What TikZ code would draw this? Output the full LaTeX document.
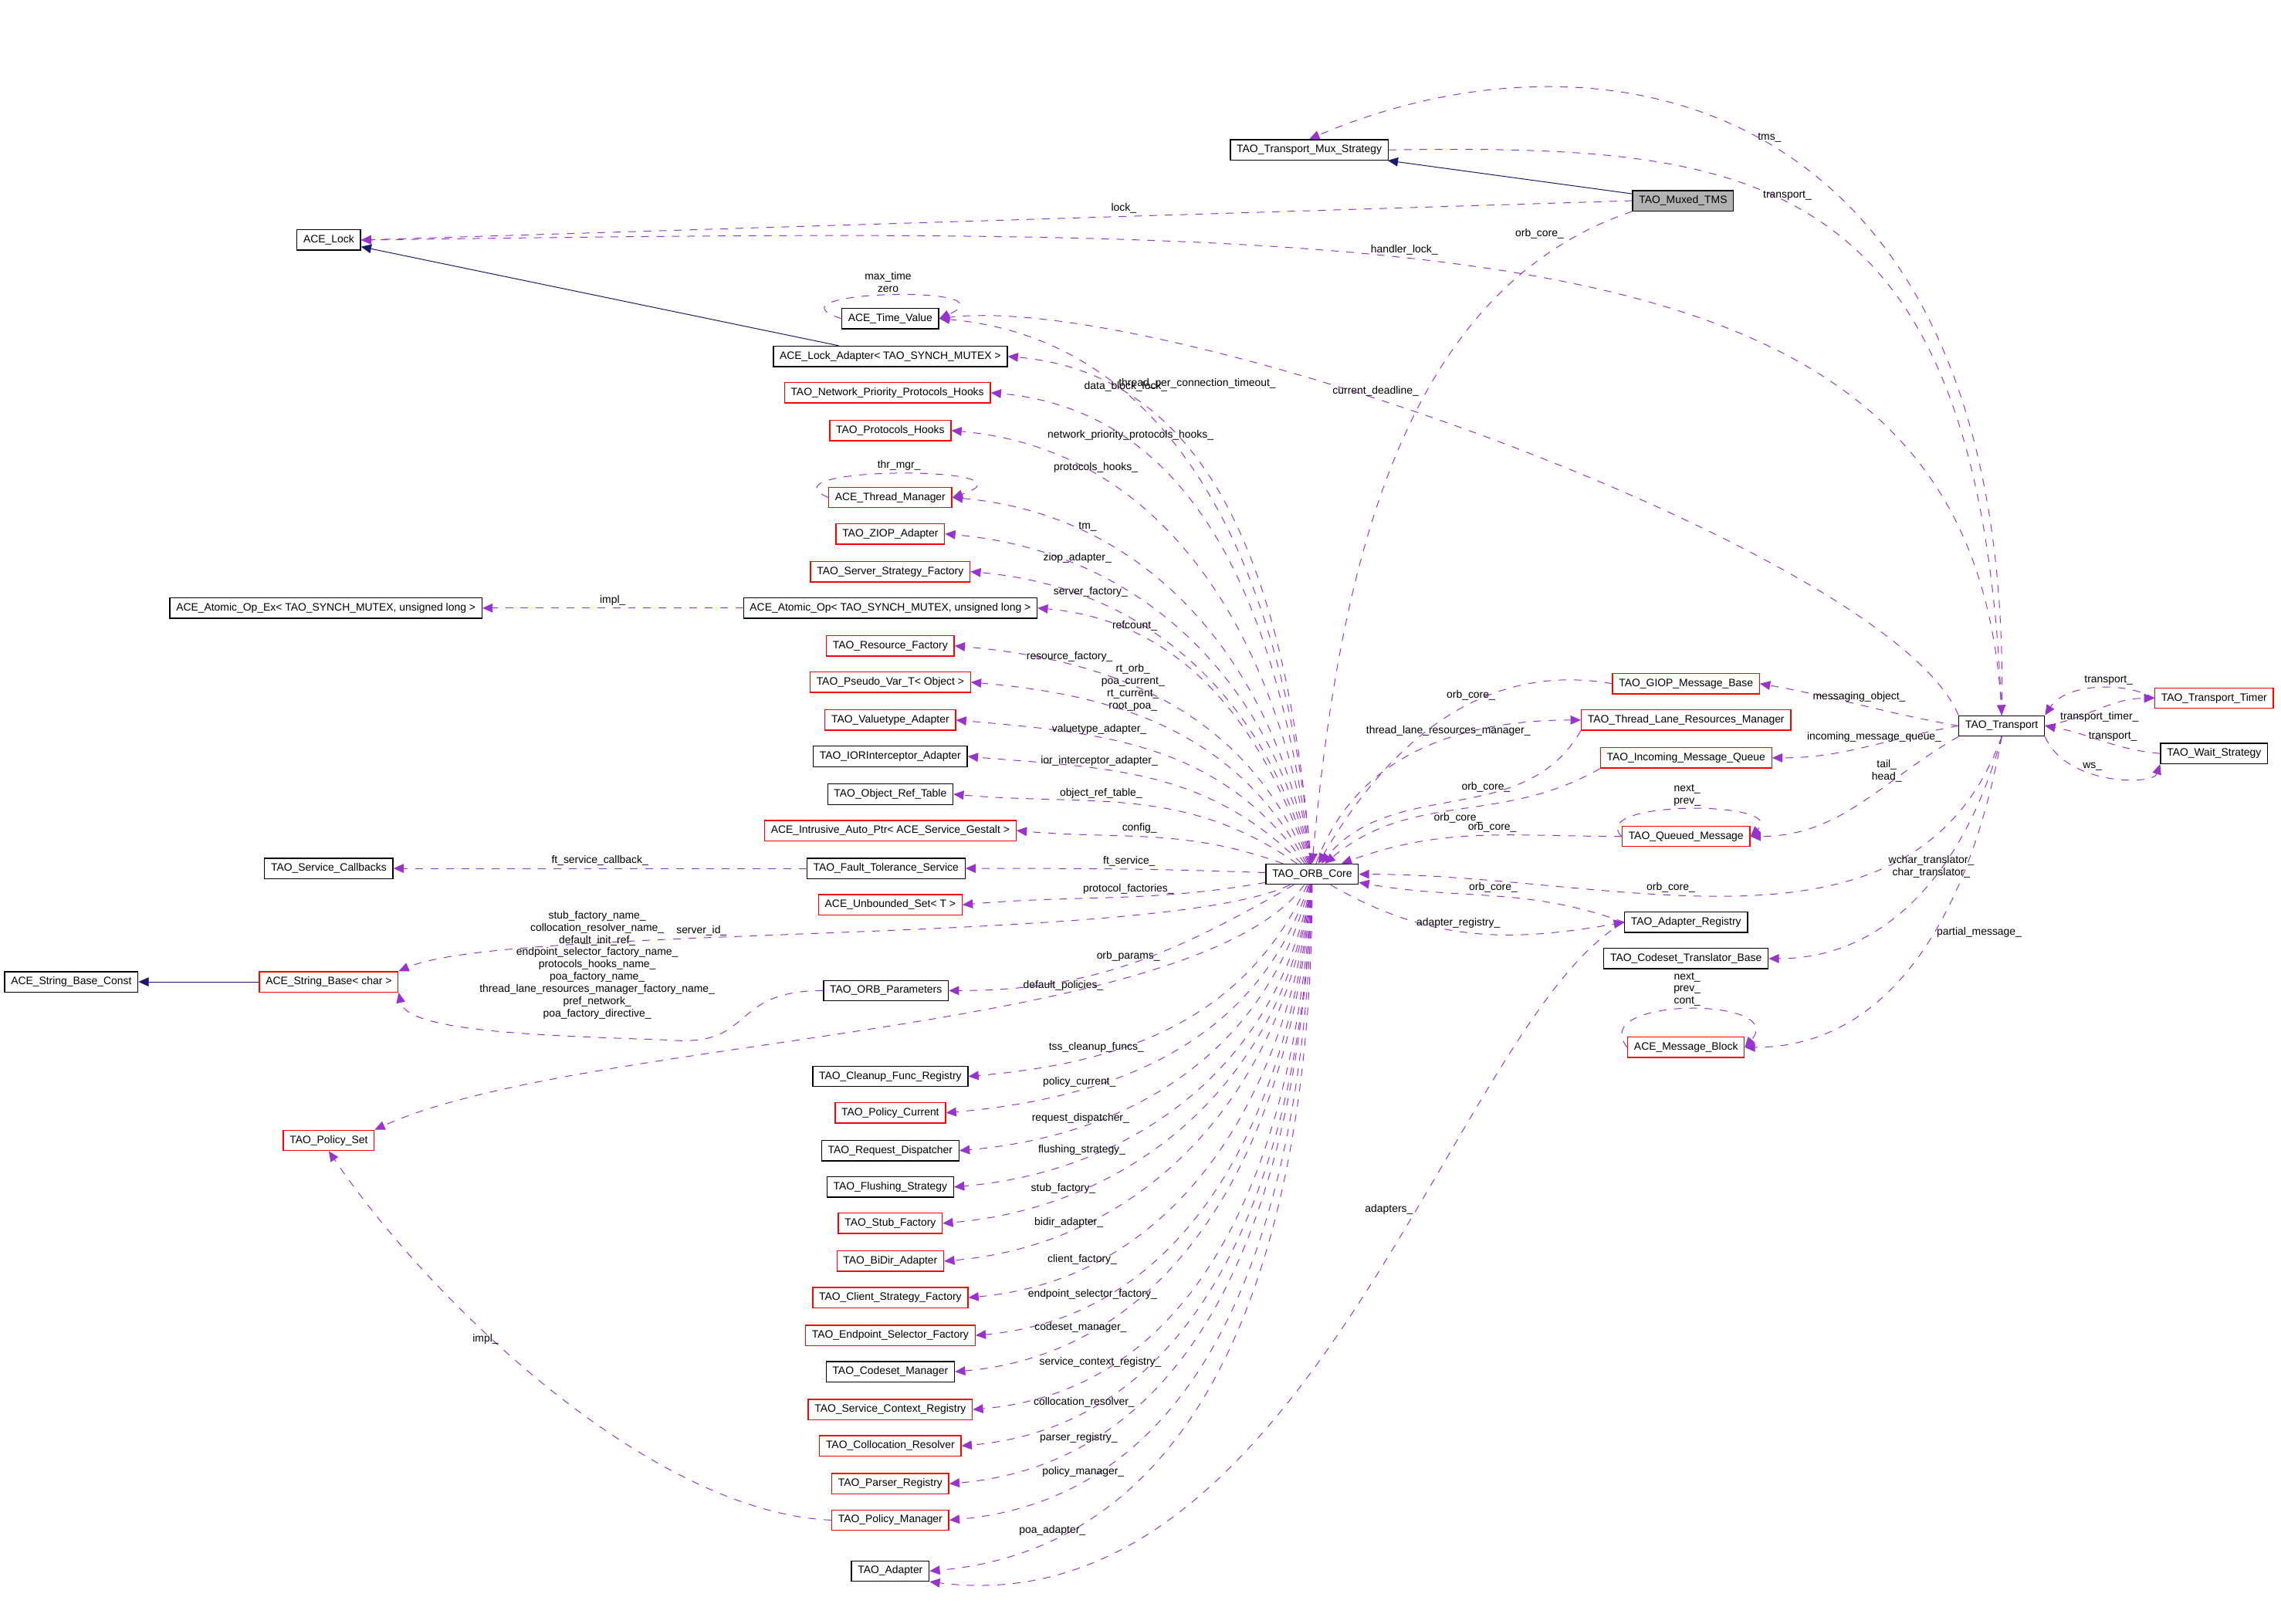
\documentclass[tikz,border=0pt]{standalone}
\usepackage{fontspec}
\setmainfont{Liberation Sans}
\usetikzlibrary{arrows.meta}
\definecolor{usecol}{HTML}{9A32CD}
\definecolor{inhcol}{HTML}{191970}
\tikzset{
  klass/.style={draw=black,fill=white,line width=0.4pt,font=\fontsize{4.2}{4.8}\selectfont,inner xsep=2.5pt,inner ysep=0pt,minimum height=0.28cm},
  redklass/.style={klass,draw=red},
  greyklass/.style={klass,fill=black!30},
  member/.style={draw=usecol,dashed,semithin,-{Triangle[length=4pt,width=3.5pt]},fill=none},
  inherit/.style={draw=inhcol,semithin,-{Triangle[length=4pt,width=3.5pt]},fill=none},
  lbl/.style={font=\fontsize{4.2}{4.8}\selectfont,inner sep=1pt,align=center,text=black},
  semithin/.style={line width=0.3pt}
}
\begin{document}
\begin{tikzpicture}[x=0.02cm,y=-0.02cm]
\useasboundingbox (0,0) rectangle (1568,1116);
% classes on the right
\node[klass] (mux) at (900,103) {TAO\_Transport\_Mux\_Strategy};
\node[greyklass] (muxed) at (1157,138) {TAO\_Muxed\_TMS};
\node[klass] (transport) at (1376,499) {TAO\_Transport};
\node[redklass] (timer) at (1522,480) {TAO\_Transport\_Timer};
\node[klass] (wait) at (1522,518) {TAO\_Wait\_Strategy};
\node[redklass] (giop) at (1159,470) {TAO\_GIOP\_Message\_Base};
\node[redklass] (lanes) at (1159,495) {TAO\_Thread\_Lane\_Resources\_Manager};
\node[redklass] (incoming) at (1159,521) {TAO\_Incoming\_Message\_Queue};
\node[redklass] (queued) at (1159,575) {TAO\_Queued\_Message};
\node[klass] (registry) at (1159,634) {TAO\_Adapter\_Registry};
\node[klass] (codeset) at (1159,659) {TAO\_Codeset\_Translator\_Base};
\node[redklass] (block) at (1159,720) {ACE\_Message\_Block};
% core
\node[klass] (core) at (902,601) {TAO\_ORB\_Core};
% far left
\node[klass] (lock) at (226,165) {ACE\_Lock};
\node[klass] (opex) at (224,418) {ACE\_Atomic\_Op\_Ex\textless{} TAO\_SYNCH\_MUTEX, unsigned long \textgreater};
\node[klass] (callbacks) at (226,597) {TAO\_Service\_Callbacks};
\node[klass] (strconst) at (49,675) {ACE\_String\_Base\_Const};
\node[redklass] (strbase) at (226,675) {ACE\_String\_Base\textless{} char \textgreater};
\node[redklass] (policyset) at (226,784) {TAO\_Policy\_Set};
% middle column
\node[klass] (timevalue) at (612,219) {ACE\_Time\_Value};
\node[klass] (lockadapter) at (612,245) {ACE\_Lock\_Adapter\textless{} TAO\_SYNCH\_MUTEX \textgreater};
\node[redklass] (netprio) at (610,270) {TAO\_Network\_Priority\_Protocols\_Hooks};
\node[redklass] (protohooks) at (612,296) {TAO\_Protocols\_Hooks};
\node[redklass] (thrmgr) at (612,342) {ACE\_Thread\_Manager};
\node[redklass] (ziop) at (612,367) {TAO\_ZIOP\_Adapter};
\node[redklass] (serverfac) at (612,393) {TAO\_Server\_Strategy\_Factory};
\node[klass] (atomic) at (612,418) {ACE\_Atomic\_Op\textless{} TAO\_SYNCH\_MUTEX, unsigned long \textgreater};
\node[redklass] (resfac) at (612,444) {TAO\_Resource\_Factory};
\node[redklass] (pseudo) at (612,469) {TAO\_Pseudo\_Var\_T\textless{} Object \textgreater};
\node[redklass] (valuetype) at (612,495) {TAO\_Valuetype\_Adapter};
\node[klass] (ior) at (612,520) {TAO\_IORInterceptor\_Adapter};
\node[klass] (objref) at (612,546) {TAO\_Object\_Ref\_Table};
\node[redklass] (gestalt) at (612,571) {ACE\_Intrusive\_Auto\_Ptr\textless{} ACE\_Service\_Gestalt \textgreater};
\node[klass] (ftservice) at (609,597) {TAO\_Fault\_Tolerance\_Service};
\node[redklass] (uset) at (612,622) {ACE\_Unbounded\_Set\textless{} T \textgreater};
\node[klass] (orbparams) at (609,681) {TAO\_ORB\_Parameters};
\node[klass] (cleanup) at (612,740) {TAO\_Cleanup\_Func\_Registry};
\node[redklass] (polcurrent) at (612,765) {TAO\_Policy\_Current};
\node[klass] (dispatcher) at (612,791) {TAO\_Request\_Dispatcher};
\node[klass] (flushing) at (612,816) {TAO\_Flushing\_Strategy};
\node[redklass] (stubfac) at (612,841) {TAO\_Stub\_Factory};
\node[redklass] (bidir) at (612,867) {TAO\_BiDir\_Adapter};
\node[redklass] (clientfac) at (612,892) {TAO\_Client\_Strategy\_Factory};
\node[redklass] (endpoint) at (612,918) {TAO\_Endpoint\_Selector\_Factory};
\node[klass] (csmanager) at (612,943) {TAO\_Codeset\_Manager};
\node[redklass] (svcctx) at (612,969) {TAO\_Service\_Context\_Registry};
\node[redklass] (colloc) at (612,994) {TAO\_Collocation\_Resolver};
\node[redklass] (parser) at (612,1020) {TAO\_Parser\_Registry};
\node[redklass] (polmanager) at (612,1045) {TAO\_Policy\_Manager};
\node[klass] (adapter) at (612,1080) {TAO\_Adapter};
% inheritance
\draw[inherit] (muxed) -- (mux);
\draw[inherit] (lockadapter) -- (lock);
\draw[inherit] (strbase) -- (strconst);
% top edges
\draw[member] (transport.north) .. controls (1385,60) and (1100,10) .. node[lbl,pos=0.5,above] {tms\_} (mux.north);
\draw[member] (mux.east) .. controls (1200,100) and (1360,110) .. node[lbl,pos=0.45,above] {transport\_} (transport.north);
\draw[member] (muxed.west) -- node[lbl,pos=0.4,above] {lock\_} (lock.east);
\draw[member] (transport.north) .. controls (1360,150) and (1000,155) .. node[lbl,pos=0.6,above] {handler\_lock\_} (lock.east);
\draw[member] (muxed.south west) .. controls (960,200) and (920,400) .. node[lbl,pos=0.1,above left] {orb\_core\_} (core.north);
\draw[member] (transport.north west) .. controls (1300,380) and (800,200) .. node[lbl,pos=0.6,above] {current\_deadline\_} (timevalue.east);
% self loops
\draw[member] (timevalue.west) .. controls (520,200) and (700,195) .. node[lbl,pos=0.5,above] {max\_time\\zero} (timevalue.east);
\draw[member] (thrmgr.west) .. controls (520,320) and (720,320) .. node[lbl,pos=0.5,above] {thr\_mgr\_} (thrmgr.east);
\draw[member] (queued.west) .. controls (1090,550) and (1230,550) .. node[lbl,pos=0.5,above] {next\_\\prev\_} (queued.east);
\draw[member] (block.west) .. controls (1090,685) and (1230,685) .. node[lbl,pos=0.5,above] {next\_\\prev\_\\cont\_} (block.east);
% core to upper column
\draw[member] (core) to[out=95,in=-5] node[lbl,pos=0.72,above right=-1pt] {thread\_per\_connection\_timeout\_} (timevalue.east);
\draw[member] (core) to[out=95,in=-5] node[lbl,pos=0.8,above] {data\_block\_lock\_} (lockadapter.east);
\draw[member] (core) to[out=97,in=-5] node[lbl,pos=0.75,above] {network\_priority\_protocols\_hooks\_} (netprio.east);
\draw[member] (core) to[out=98,in=-5] node[lbl,pos=0.75,above] {protocols\_hooks\_} (protohooks.east);
\draw[member] (core) to[out=100,in=-5] node[lbl,pos=0.75,above] {tm\_} (thrmgr.east);
\draw[member] (core) to[out=102,in=-5] node[lbl,pos=0.75,above] {ziop\_adapter\_} (ziop.east);
\draw[member] (core) to[out=105,in=-5] node[lbl,pos=0.75,above] {server\_factory\_} (serverfac.east);
\draw[member] (core) to[out=108,in=-5] node[lbl,pos=0.75,above] {refcount\_} (atomic.east);
\draw[member] (core) to[out=112,in=-5] node[lbl,pos=0.75,above] {resource\_factory\_} (resfac.east);
\draw[member] (core) to[out=118,in=-5] node[lbl,pos=0.6,above] {rt\_orb\_\\poa\_current\_\\rt\_current\_\\root\_poa\_} (pseudo.east);
\draw[member] (core) to[out=125,in=-5] node[lbl,pos=0.65,above] {valuetype\_adapter\_} (valuetype.east);
\draw[member] (core) to[out=135,in=-5] node[lbl,pos=0.65,above] {ior\_interceptor\_adapter\_} (ior.east);
\draw[member] (core) to[out=145,in=-5] node[lbl,pos=0.6,above] {object\_ref\_table\_} (objref.east);
\draw[member] (core) to[out=160,in=-5] node[lbl,pos=0.55,above] {config\_} (gestalt.east);
\draw[member] (core) to[out=178,in=0] node[lbl,pos=0.45,above] {ft\_service\_} (ftservice.east);
\draw[member] (core) to[out=-170,in=5] node[lbl,pos=0.45,above] {protocol\_factories\_} (uset.east);
% left side
\draw[member] (atomic.west) -- node[lbl,pos=0.5,above] {impl\_} (opex.east);
\draw[member] (ftservice.west) -- node[lbl,pos=0.5,above] {ft\_service\_callback\_} (callbacks.east);
\draw[member] (core) .. controls (800,650) and (350,635) .. node[lbl,pos=0.62,above] {server\_id\_} (strbase.north east);
\draw[member] (orbparams.west) .. controls (500,681) and (520,720) .. (460,715) .. controls (380,712) and (280,710) .. node[lbl,pos=0.2,above=6pt] {stub\_factory\_name\_\\collocation\_resolver\_name\_\\default\_init\_ref\_\\endpoint\_selector\_factory\_name\_\\protocols\_hooks\_name\_\\poa\_factory\_name\_\\thread\_lane\_resources\_manager\_factory\_name\_\\pref\_network\_\\poa\_factory\_directive\_} (strbase.south east);
\draw[member] (core) to[out=-150,in=0] node[lbl,pos=0.5,above] {orb\_params\_} (orbparams.east);
\draw[member] (core) .. controls (820,712) and (400,712) .. node[lbl,pos=0.33,above] {default\_policies\_} (policyset.north east);
\draw[member] (polmanager.west) .. controls (450,1040) and (300,900) .. node[lbl,pos=0.6,above left] {impl\_} (policyset.south);
% core to lower column
\draw[member] (core) to[out=-115,in=5] node[lbl,pos=0.7,above] {tss\_cleanup\_funcs\_} (cleanup.east);
\draw[member] (core) to[out=-108,in=5] node[lbl,pos=0.72,above] {policy\_current\_} (polcurrent.east);
\draw[member] (core) to[out=-104,in=5] node[lbl,pos=0.75,above] {request\_dispatcher\_} (dispatcher.east);
\draw[member] (core) to[out=-100,in=5] node[lbl,pos=0.75,above] {flushing\_strategy\_} (flushing.east);
\draw[member] (core) to[out=-98,in=5] node[lbl,pos=0.78,above] {stub\_factory\_} (stubfac.east);
\draw[member] (core) to[out=-97,in=5] node[lbl,pos=0.78,above] {bidir\_adapter\_} (bidir.east);
\draw[member] (core) to[out=-96,in=5] node[lbl,pos=0.8,above] {client\_factory\_} (clientfac.east);
\draw[member] (core) to[out=-95,in=5] node[lbl,pos=0.8,above] {endpoint\_selector\_factory\_} (endpoint.east);
\draw[member] (core) to[out=-94,in=5] node[lbl,pos=0.8,above] {codeset\_manager\_} (csmanager.east);
\draw[member] (core) to[out=-93,in=5] node[lbl,pos=0.8,above] {service\_context\_registry\_} (svcctx.east);
\draw[member] (core) to[out=-92,in=5] node[lbl,pos=0.82,above] {collocation\_resolver\_} (colloc.east);
\draw[member] (core) to[out=-92,in=5] node[lbl,pos=0.82,above] {parser\_registry\_} (parser.east);
\draw[member] (core) to[out=-91,in=5] node[lbl,pos=0.82,above] {policy\_manager\_} (polmanager.east);
\draw[member] (core) to[out=-90,in=5] node[lbl,pos=0.85,above] {poa\_adapter\_} (adapter.east);
\draw[member] (registry.west) .. controls (1000,700) and (900,1120) .. node[lbl,pos=0.4,left] {adapters\_} (adapter.south east);
% right side of core
\draw[member] (giop.west) to[out=170,in=60] node[lbl,pos=0.4,above] {orb\_core\_} (core);
\draw[member] (core) to[out=70,in=180] node[lbl,pos=0.6,above] {thread\_lane\_resources\_manager\_} (lanes.west);
\draw[member] (lanes.south west) to[out=-120,in=50] node[lbl,pos=0.4,above] {orb\_core\_} (core);
\draw[member] (incoming.south west) to[out=-150,in=40] node[lbl,pos=0.5,below] {orb\_core\_} (core);
\draw[member] (queued.west) to[out=180,in=20] node[lbl,pos=0.45,above] {orb\_core\_} (core);
\draw[member] (transport.south) to[out=-110,in=0] node[lbl,pos=0.6,above] {orb\_core\_} (core);
\draw[member] (registry.west) to[out=160,in=-10] node[lbl,pos=0.5,above] {orb\_core\_} (core);
\draw[member] (core) to[out=-30,in=190] node[lbl,pos=0.45,above] {adapter\_registry\_} (registry.west);
% transport
\draw[member] (transport.west) to[out=170,in=-10] node[lbl,pos=0.5,above] {messaging\_object\_} (giop.east);
\draw[member] (transport.west) to[out=190,in=0] node[lbl,pos=0.45,above] {incoming\_message\_queue\_} (incoming.east);
\draw[member] (transport.south west) to[out=-150,in=0] node[lbl,pos=0.35,above] {tail\_\\head\_} (queued.east);
\draw[member] (transport.south) to[out=-105,in=0] node[lbl,pos=0.45,above] {wchar\_translator\_\\char\_translator\_} (codeset.east);
\draw[member] (transport.south) to[out=-100,in=0] node[lbl,pos=0.45,right] {partial\_message\_} (block.east);
\draw[member] (transport.east) to[out=10,in=180] node[lbl,pos=0.5,below] {transport\_timer\_} (timer.west);
\draw[member] (timer.west) .. controls (1460,468) and (1420,470) .. node[lbl,pos=0.4,above] {transport\_} (transport.north east);
\draw[member] (wait.west) to[out=175,in=-10] node[lbl,pos=0.4,above] {transport\_} (transport.east);
\draw[member] (transport.south east) .. controls (1420,540) and (1480,540) .. node[lbl,pos=0.4,above] {ws\_} (wait.south west);
\end{tikzpicture}
\end{document}
